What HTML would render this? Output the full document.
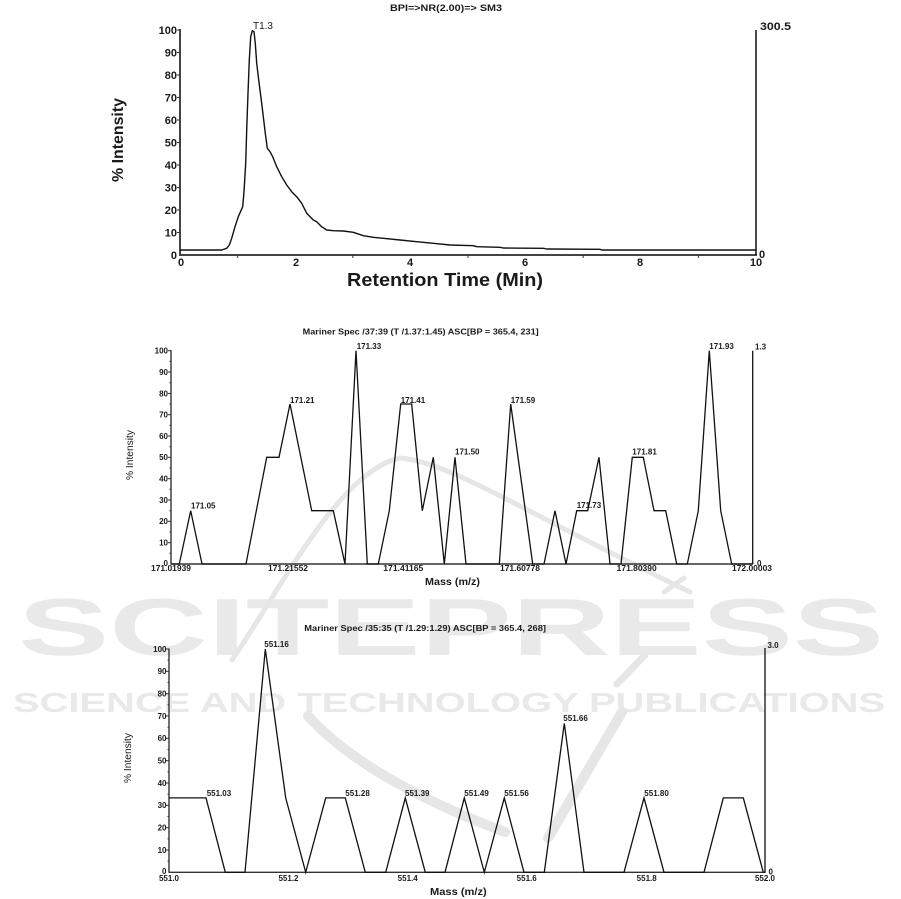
<!DOCTYPE html>
<html><head><meta charset="utf-8"><style>
html,body{margin:0;padding:0;background:#fff;}
svg{display:block;}
text{font-family:"Liberation Sans",Arial,sans-serif;fill:#1a1a1a;}
.b{font-weight:bold;}
</style></head><body>
<svg width="901" height="899" viewBox="0 0 901 899" xmlns="http://www.w3.org/2000/svg">
<!-- watermark -->
<g fill="#e8e8e8" stroke="none">
<text x="18" y="655" font-size="81" font-weight="bold" textLength="866" lengthAdjust="spacingAndGlyphs" style="fill:#e9e9e9">SCITEPRESS</text>
<text x="13" y="712" font-size="28" font-weight="bold" textLength="872" lengthAdjust="spacingAndGlyphs" style="fill:#e9e9e9">SCIENCE AND TECHNOLOGY PUBLICATIONS</text>
</g>
<g fill="none" stroke="#e6e6e6" stroke-linecap="round">
<path d="M232 660 C 280 590, 340 470, 400 458 C 450 462, 520 510, 690 592" stroke-width="5"/>
<path d="M308 716 C 350 762, 420 800, 505 832" stroke-width="10"/>
<path d="M622 712 L 548 838" stroke-width="10"/>
<path d="M617 684 L 645 655" stroke-width="7"/>
<path d="M664 592 L 684 578" stroke-width="5"/>
</g>

<!-- ===== TOP CHART ===== -->
<text x="390" y="11" font-size="9" class="b" textLength="112" lengthAdjust="spacingAndGlyphs">BPI=&gt;NR(2.00)=&gt; SM3</text>
<g stroke="#444" stroke-width="2" fill="none">
<line x1="180" y1="29" x2="180" y2="256"/>
<line x1="179" y1="255" x2="757" y2="255"/>
</g>
<line x1="756" y1="30" x2="756" y2="255" stroke="#111" stroke-width="1.5"/>
<g stroke="#333" stroke-width="1">
<line x1="177" y1="30" x2="180" y2="30"/><line x1="177" y1="52.5" x2="180" y2="52.5"/><line x1="177" y1="75" x2="180" y2="75"/><line x1="177" y1="97.5" x2="180" y2="97.5"/><line x1="177" y1="120" x2="180" y2="120"/><line x1="177" y1="142.5" x2="180" y2="142.5"/><line x1="177" y1="165" x2="180" y2="165"/><line x1="177" y1="187.5" x2="180" y2="187.5"/><line x1="177" y1="210" x2="180" y2="210"/><line x1="177" y1="232.5" x2="180" y2="232.5"/>
<line x1="237.6" y1="255" x2="237.6" y2="258"/><line x1="352.8" y1="255" x2="352.8" y2="258"/><line x1="468" y1="255" x2="468" y2="258"/><line x1="583.2" y1="255" x2="583.2" y2="258"/><line x1="698.4" y1="255" x2="698.4" y2="258"/>
</g>
<g font-size="11" class="b" text-anchor="end">
<text x="177" y="34">100</text><text x="177" y="56.5">90</text><text x="177" y="79">80</text><text x="177" y="101.5">70</text><text x="177" y="124">60</text><text x="177" y="146.5">50</text><text x="177" y="169">40</text><text x="177" y="191.5">30</text><text x="177" y="214">20</text><text x="177" y="236.5">10</text><text x="177" y="259">0</text>
</g>
<g font-size="11" class="b" text-anchor="middle">
<text x="181" y="266">0</text><text x="296" y="266">2</text><text x="410" y="266">4</text><text x="525" y="266">6</text><text x="640" y="266">8</text><text x="756" y="266">10</text>
</g>
<text x="760" y="30" font-size="11" class="b" textLength="31" lengthAdjust="spacingAndGlyphs">300.5</text>
<text x="759" y="258" font-size="11" class="b">0</text>
<text x="253" y="29" font-size="10" textLength="20" lengthAdjust="spacingAndGlyphs">T1.3</text>
<text transform="translate(123,140) rotate(-90)" font-size="16" class="b" text-anchor="middle" textLength="84" lengthAdjust="spacingAndGlyphs">% Intensity</text>
<text x="347" y="286" font-size="18" class="b" textLength="196" lengthAdjust="spacingAndGlyphs">Retention Time (Min)</text>
<polyline fill="none" stroke="#111" stroke-width="1.4" stroke-linejoin="round" points="180,250 221.7,250 226.7,248.3 229.3,245 231.7,238.3 235,226.7 238.3,216.7 242.7,206.7 244,191.7 245.7,163.3 246.7,130 248,93.3 249.3,60 250.7,36.7 252.3,30.7 254,31.7 255.3,43.3 256.7,63.3 258.7,80 261.3,100 263.3,116.7 265.3,133.3 267.3,148.3 270,151.7 272.7,156.7 276.7,166.7 281.7,176.7 286.7,185 291.7,191.7 296.7,196.7 301.7,203.3 306.7,213.3 313.3,220 316.7,221.7 321.7,226.7 326.7,230 333.3,230.7 343.3,231 353.3,232.3 363.3,235.7 373.3,237.3 383.3,238.3 400,240 416.7,241.7 433.3,243.3 450,245 473.3,245.7 476.7,246.7 500,247.3 503.3,248 543.3,248.3 546.7,249 600,249.3 601.7,250 756,250"/>

<!-- ===== MIDDLE CHART ===== -->
<text x="302.7" y="334.6" font-size="8" class="b" textLength="236" lengthAdjust="spacingAndGlyphs">Mariner Spec /37:39 (T /1.37:1.45)  ASC[BP = 365.4, 231]</text>
<g stroke="#333" stroke-width="1.4" fill="none">
<line x1="171" y1="350" x2="171" y2="564.5"/>
<line x1="171" y1="564" x2="753" y2="564"/>
</g>
<line x1="752.7" y1="350.7" x2="752.7" y2="564" stroke="#111" stroke-width="1.3"/>
<g stroke="#333" stroke-width="1">
<line x1="168" y1="350.7" x2="171" y2="350.7"/><line x1="168" y1="372" x2="171" y2="372"/><line x1="168" y1="393.4" x2="171" y2="393.4"/><line x1="168" y1="414.7" x2="171" y2="414.7"/><line x1="168" y1="436" x2="171" y2="436"/><line x1="168" y1="457.3" x2="171" y2="457.3"/><line x1="168" y1="478.7" x2="171" y2="478.7"/><line x1="168" y1="500" x2="171" y2="500"/><line x1="168" y1="521.3" x2="171" y2="521.3"/><line x1="168" y1="542.7" x2="171" y2="542.7"/>
<line x1="169.5" y1="361.4" x2="171" y2="361.4"/><line x1="169.5" y1="382.7" x2="171" y2="382.7"/><line x1="169.5" y1="404" x2="171" y2="404"/><line x1="169.5" y1="425.4" x2="171" y2="425.4"/><line x1="169.5" y1="446.7" x2="171" y2="446.7"/><line x1="169.5" y1="468" x2="171" y2="468"/><line x1="169.5" y1="489.3" x2="171" y2="489.3"/><line x1="169.5" y1="510.7" x2="171" y2="510.7"/><line x1="169.5" y1="532" x2="171" y2="532"/><line x1="169.5" y1="553.3" x2="171" y2="553.3"/>
</g>
<g font-size="8" class="b" text-anchor="end">
<text x="168" y="353.6">100</text><text x="168" y="374.9">90</text><text x="168" y="396.3">80</text><text x="168" y="417.6">70</text><text x="168" y="438.9">60</text><text x="168" y="460.2">50</text><text x="168" y="481.6">40</text><text x="168" y="502.9">30</text><text x="168" y="524.2">20</text><text x="168" y="545.6">10</text><text x="168" y="566">0</text>
</g>
<g font-size="8" class="b" text-anchor="middle">
<text x="171" y="571.2" textLength="40" lengthAdjust="spacingAndGlyphs">171.01939</text>
<text x="288" y="571.2" textLength="40" lengthAdjust="spacingAndGlyphs">171.21552</text>
<text x="403.3" y="571.2" textLength="40" lengthAdjust="spacingAndGlyphs">171.41165</text>
<text x="520" y="571.2" textLength="40" lengthAdjust="spacingAndGlyphs">171.60778</text>
<text x="636.7" y="571.2" textLength="40" lengthAdjust="spacingAndGlyphs">171.80390</text>
<text x="752" y="571.2" textLength="40" lengthAdjust="spacingAndGlyphs">172.00003</text>
</g>
<text x="425" y="585" font-size="10.5" class="b" textLength="55" lengthAdjust="spacingAndGlyphs">Mass (m/z)</text>
<text transform="translate(133,455) rotate(-90)" font-size="10" text-anchor="middle" textLength="50" lengthAdjust="spacingAndGlyphs">% Intensity</text>
<text x="755" y="349.6" font-size="8" class="b">1.3</text>
<text x="757" y="566" font-size="8" class="b">0</text>
<g font-size="8" class="b">
<text x="191" y="508.6">171.05</text>
<text x="290" y="402.9">171.21</text>
<text x="356.7" y="348.9">171.33</text>
<text x="400.7" y="402.9">171.41</text>
<text x="455" y="454.6">171.50</text>
<text x="510.7" y="402.9">171.59</text>
<text x="576.7" y="507.9">171.73</text>
<text x="632.3" y="454.6">171.81</text>
<text x="709.3" y="348.9">171.93</text>
</g>
<polyline fill="none" stroke="#111" stroke-width="1.3" stroke-linejoin="miter" points="171,564 179.3,564 190.7,510.7 202,564 246,564 266.7,457.3 279,457.3 290,404 311.7,510.7 333.3,510.7 345,564 356,350.7 367.3,564 378.3,564 389.3,510.7 400.7,404 411.7,404 422.3,510.7 433.3,457.3 444.3,564 455,457.3 466,564 499.3,564 510.7,404 532.7,564 544,564 555,510.7 566,564 576.7,510.7 587.7,510.7 599,457.3 610,564 621,564 632.3,457.3 643.3,457.3 654,510.7 665.7,510.7 676.7,564 687.3,564 698.3,510.7 709.3,350.7 720.7,510.7 731.7,564 752.7,564"/>

<!-- ===== BOTTOM CHART ===== -->
<text x="304.3" y="631.2" font-size="8" class="b" textLength="241.7" lengthAdjust="spacingAndGlyphs">Mariner Spec /35:35 (T /1.29:1.29)  ASC[BP = 365.4, 268]</text>
<g stroke="#333" stroke-width="1.4" fill="none">
<line x1="169" y1="648.5" x2="169" y2="872.8"/>
<line x1="169" y1="872.3" x2="765.5" y2="872.3"/>
</g>
<line x1="765" y1="648" x2="765" y2="872.3" stroke="#111" stroke-width="1.3"/>
<g stroke="#333" stroke-width="1">
<line x1="166" y1="649" x2="169" y2="649"/><line x1="166" y1="671.3" x2="169" y2="671.3"/><line x1="166" y1="693.7" x2="169" y2="693.7"/><line x1="166" y1="716" x2="169" y2="716"/><line x1="166" y1="738.3" x2="169" y2="738.3"/><line x1="166" y1="760.7" x2="169" y2="760.7"/><line x1="166" y1="783" x2="169" y2="783"/><line x1="166" y1="805.3" x2="169" y2="805.3"/><line x1="166" y1="827.7" x2="169" y2="827.7"/><line x1="166" y1="850" x2="169" y2="850"/>
<line x1="167.5" y1="660.2" x2="169" y2="660.2"/><line x1="167.5" y1="682.5" x2="169" y2="682.5"/><line x1="167.5" y1="704.8" x2="169" y2="704.8"/><line x1="167.5" y1="727.2" x2="169" y2="727.2"/><line x1="167.5" y1="749.5" x2="169" y2="749.5"/><line x1="167.5" y1="771.8" x2="169" y2="771.8"/><line x1="167.5" y1="794.2" x2="169" y2="794.2"/><line x1="167.5" y1="816.5" x2="169" y2="816.5"/><line x1="167.5" y1="838.8" x2="169" y2="838.8"/><line x1="167.5" y1="861.2" x2="169" y2="861.2"/>
</g>
<g font-size="8" class="b" text-anchor="end">
<text x="166.5" y="651.9">100</text><text x="166.5" y="674.2">90</text><text x="166.5" y="696.6">80</text><text x="166.5" y="718.9">70</text><text x="166.5" y="741.2">60</text><text x="166.5" y="763.6">50</text><text x="166.5" y="785.9">40</text><text x="166.5" y="808.2">30</text><text x="166.5" y="830.6">20</text><text x="166.5" y="852.9">10</text><text x="166.5" y="874">0</text>
</g>
<g font-size="8" class="b" text-anchor="middle">
<text x="169" y="881.2">551.0</text>
<text x="288.5" y="881.2">551.2</text>
<text x="407.7" y="881.2">551.4</text>
<text x="526.7" y="881.2">551.6</text>
<text x="646.7" y="881.2">551.8</text>
<text x="765" y="881.2">552.0</text>
</g>
<text x="430" y="895" font-size="10.5" class="b" textLength="56.7" lengthAdjust="spacingAndGlyphs">Mass (m/z)</text>
<text transform="translate(131,758) rotate(-90)" font-size="10" text-anchor="middle" textLength="50" lengthAdjust="spacingAndGlyphs">% Intensity</text>
<text x="767.5" y="648" font-size="8" class="b">3.0</text>
<text x="768.5" y="874.5" font-size="8" class="b">0</text>
<g font-size="8" class="b">
<text x="206.7" y="796">551.03</text>
<text x="264.3" y="647.2">551.16</text>
<text x="345.3" y="796">551.28</text>
<text x="405" y="796">551.39</text>
<text x="464.3" y="796">551.49</text>
<text x="504.3" y="796">551.56</text>
<text x="563.3" y="721.2">551.66</text>
<text x="644.3" y="796">551.80</text>
</g>
<polyline fill="none" stroke="#111" stroke-width="1.3" points="169,797.9 206,797.9 225.3,872.3 245,872.3 265.3,649 285.7,797.9 305.7,872.3 325.7,797.9 345.3,797.9 365.3,872.3 385.7,872.3 405.3,797.9 425.3,872.3 445,872.3 464.3,797.9 484.3,872.3 504.3,797.9 524,872.3 544.3,872.3 564.3,723.4 584,872.3 624,872.3 644,797.9 664,872.3 704,872.3 723.3,797.9 743.3,797.9 763.3,872.3 765,872.3"/>
</svg>
</body></html>
